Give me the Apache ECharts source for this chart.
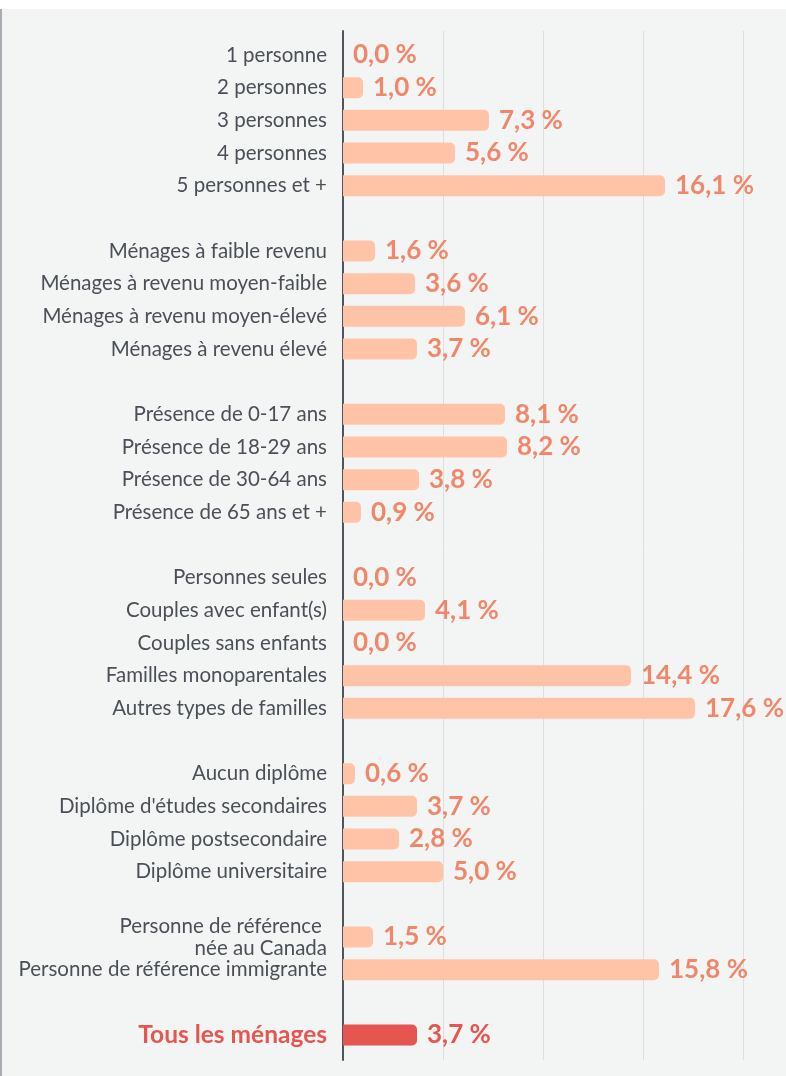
<!DOCTYPE html>
<html>
<head>
<meta charset="utf-8">
<script src="https://cdn.jsdelivr.net/npm/echarts@6/dist/echarts.min.js"></script>
<style>
  html, body { margin: 0; padding: 0; background: #fff; }
  #wrap {
    position: relative; width: 786px; height: 1076px; overflow: hidden;
    background: linear-gradient(#fff 0, #fff 9px, #f3f5f4 9px);
  }
  #wrap::before {
    content: ''; position: absolute; left: 0; top: 9px; bottom: 0; width: 2px; background: #a9adb1;
  }
  #chart { position: absolute; left: 0; top: 0; width: 786px; height: 1076px; }
</style>
</head>
<body>
<div id="wrap"><div id="chart"></div></div>
<script>
// blank entries separate the groups
const categories = [
  '1 personne', '2 personnes', '3 personnes', '4 personnes', '5 personnes et +',
  '',
  'Ménages à faible revenu', 'Ménages à revenu moyen-faible', 'Ménages à revenu moyen-élevé', 'Ménages à revenu élevé',
  '',
  'Présence de 0-17 ans', 'Présence de 18-29 ans', 'Présence de 30-64 ans', 'Présence de 65 ans et +',
  '',
  'Personnes seules', 'Couples avec enfant(s)', 'Couples sans enfants', 'Familles monoparentales', 'Autres types de familles',
  '',
  'Aucun diplôme', "Diplôme d'études secondaires", 'Diplôme postsecondaire', 'Diplôme universitaire',
  '',
  'Personne de référence \nnée au Canada', 'Personne de référence immigrante',
  '',
  'Tous les ménages',
];
const values = [
  0.0, 1.0, 7.3, 5.6, 16.1,
  null,
  1.6, 3.6, 6.1, 3.7,
  null,
  8.1, 8.2, 3.8, 0.9,
  null,
  0.0, 4.1, 0.0, 14.4, 17.6,
  null,
  0.6, 3.7, 2.8, 5.0,
  null,
  1.5, 15.8,
  null,
  3.7,
];
const highlightName = 'Tous les ménages';

const FONT = '"Source Sans Pro", Lato, "Noto Sans", sans-serif';
const BAR = '#ffc4a8';
const BAR_HL = '#e55651';
const LABEL = '#f0876a';
const TEXT = '#4b5058';

const fmt = (v) => v.toFixed(1).replace('.', ',') + ' %';

const chart = echarts.init(document.getElementById('chart'));

const barData = values.map((v, i) => {
  if (v === null) return null;
  if (categories[i] === highlightName) {
    return {
      value: v,
      itemStyle: { color: BAR_HL },
      label: { color: BAR_HL },
    };
  }
  return v;
});

chart.setOption({
  animation: false,
  textStyle: { fontFamily: FONT },
  grid: [
    { left: 343, right: 43, top: 38.67, height: 1012.67 },
    { left: 343, right: 43, top: 31, bottom: 16 },
  ],
  xAxis: [
    {
      gridIndex: 0, type: 'value', min: 0, max: 20, interval: 5,
      axisLine: { show: false }, axisTick: { show: false },
      axisLabel: { show: false }, splitLine: { show: false },
    },
    {
      gridIndex: 1, type: 'value', min: 0, max: 20, interval: 5,
      axisLine: { show: false }, axisTick: { show: false },
      axisLabel: { show: false },
      splitLine: { show: true, lineStyle: { color: '#dcdfdf', width: 1 } },
    },
  ],
  yAxis: [
    {
      gridIndex: 0, type: 'category', inverse: true, data: categories,
      axisLine: { show: false }, axisTick: { show: false },
      axisLabel: {
        margin: 16, fontSize: 20.5, color: TEXT, lineHeight: 22, fontFamily: FONT,
        formatter: (name) => (name === highlightName ? '{hl|' + name + '}' : name),
        rich: {
          hl: { fontSize: 24.5, fontWeight: 'bold', color: BAR_HL, fontFamily: FONT },
        },
      },
    },
    {
      gridIndex: 1, type: 'value', min: 0, max: 1,
      axisLine: { show: true, lineStyle: { color: '#50555c', width: 2 } },
      axisTick: { show: false }, axisLabel: { show: false }, splitLine: { show: false },
    },
  ],
  series: [{
    type: 'bar',
    xAxisIndex: 0,
    yAxisIndex: 0,
    data: barData,
    barWidth: 21,
    itemStyle: { color: BAR, borderRadius: [0, 5, 5, 0] },
    label: {
      show: true,
      position: 'right',
      distance: 10,
      fontSize: 26,
      fontWeight: 'bold',
      color: LABEL,
      fontFamily: FONT,
      formatter: (p) => fmt(p.value),
    },
  }],
});
</script>
</body>
</html>
